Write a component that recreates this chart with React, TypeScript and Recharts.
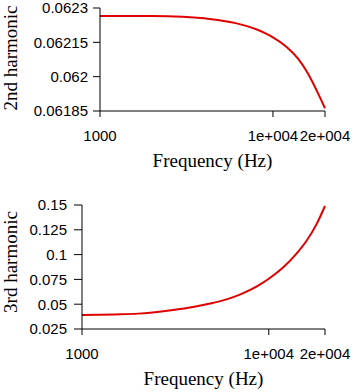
import React from "react";
import { LineChart, Line, XAxis, YAxis } from "recharts";

// shared frequency grid (Hz)
const freq = [1000, 1500, 2000, 3000, 4000, 5000, 6000, 7000, 8000, 9000, 10000, 12000, 14000, 16000, 18000, 20000];

const second = [
  0.062265, 0.062265, 0.062265, 0.062262, 0.062255, 0.062245, 0.062235, 0.062222,
  0.062207, 0.06219, 0.062172, 0.06213, 0.062078, 0.062012, 0.061936, 0.061862,
];

const third = [
  0.0391, 0.0397, 0.0405, 0.044, 0.0475, 0.0512, 0.0551, 0.0597,
  0.0646, 0.0700, 0.0757, 0.0875, 0.1005, 0.1145, 0.1305, 0.149,
];

const xTicks = [1000, 10000, 20000];
const secondTicks = [0.06185, 0.062, 0.06215, 0.0623];
const thirdTicks = [0.025, 0.05, 0.075, 0.1, 0.125, 0.15];

const secondData = freq.map((f, i) => ({ f, v: second[i] }));
const thirdData = freq.map((f, i) => ({ f, v: third[i] }));

const RED = "#e00000";
const tickFont = { fontFamily: "Liberation Sans, Arial, sans-serif", fontSize: 15, fill: "#000" };
const titleFont = "Liberation Serif, Times New Roman, serif";

const fmtX = (v: number) => (v === 1000 ? "1000" : v === 10000 ? "1e+004" : "2e+004");

const XTitle = (props: any) => {
  const vb = props.viewBox;
  return (
    <text x={vb.x + vb.width / 2} y={vb.y + 56} textAnchor="middle" fontFamily={titleFont} fontSize={19} fill="#000">
      Frequency (Hz)
    </text>
  );
};

const yTitle = (text: string, shift: number) => (props: any) => {
  const vb = props.viewBox;
  const cy = vb.y + vb.height / 2 + shift;
  return (
    <text x={17} y={cy} transform={`rotate(-90, 17, ${cy})`} textAnchor="middle" fontFamily={titleFont} fontSize={19} fill="#000">
      {text}
    </text>
  );
};

export default function App() {
  return (
    <div style={{ position: "absolute", left: 0, top: 0, width: 359, height: 392, background: "#fff" }}>
      <LineChart width={359} height={176} data={secondData} margin={{ top: 8, right: 34, left: 0, bottom: 0 }}>
        <XAxis
          dataKey="f"
          type="number"
          scale="log"
          domain={[1000, 20000]}
          ticks={xTicks}
          interval={0}
          tickFormatter={fmtX}
          tick={tickFont}
          tickSize={6}
          tickMargin={13}
          height={65}
          stroke="#000"
          label={<XTitle />}
        />
        <YAxis
          type="number"
          domain={[0.06185, 0.0623]}
          ticks={secondTicks}
          interval={0}
          allowDataOverflow
          tick={tickFont}
          tickSize={7}
          tickMargin={5}
          width={100}
          stroke="#000"
          label={{ content: yTitle("2nd harmonic", -1.5) }}
        />
        <Line dataKey="v" type="monotone" stroke={RED} strokeWidth={2} dot={false} isAnimationActive={false} />
      </LineChart>
      <LineChart width={359} height={216} data={thirdData} margin={{ top: 29, right: 34, left: 0, bottom: 0 }}>
        <XAxis
          dataKey="f"
          type="number"
          scale="log"
          domain={[1000, 20000]}
          ticks={xTicks}
          interval={0}
          tickFormatter={fmtX}
          tick={tickFont}
          tickSize={6}
          tickMargin={13}
          height={63}
          stroke="#000"
          label={<XTitle />}
        />
        <YAxis
          type="number"
          domain={[0.025, 0.15]}
          ticks={thirdTicks}
          interval={0}
          allowDataOverflow
          tick={tickFont}
          tickSize={8}
          tickMargin={7}
          width={82}
          stroke="#000"
          label={{ content: yTitle("3rd harmonic", -5) }}
        />
        <Line dataKey="v" type="monotone" stroke={RED} strokeWidth={2} dot={false} isAnimationActive={false} />
      </LineChart>
    </div>
  );
}
